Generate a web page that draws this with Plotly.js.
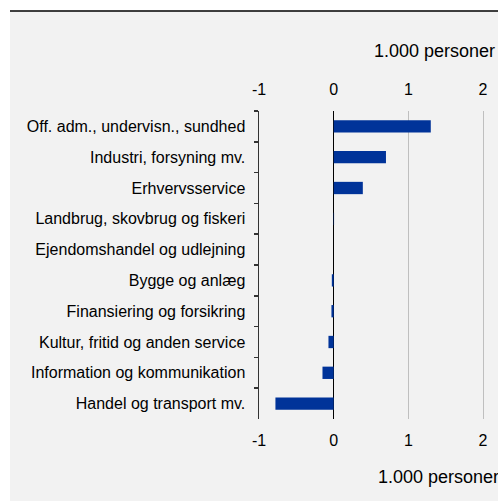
<!DOCTYPE html>
<html>
<head>
<meta charset="utf-8">
<script src="https://cdn.plot.ly/plotly-3.0.1.min.js"></script>
<style>
  html, body { margin: 0; padding: 0; background: #ffffff; }
  #chart { width: 498px; height: 501px; }
</style>
</head>
<body>
<div id="chart"></div>
<script>
// Employment change by industry, 1.000 personer (top to bottom)
const industries = [
  "Off. adm., undervisn., sundhed",
  "Industri, forsyning mv.",
  "Erhvervsservice",
  "Landbrug, skovbrug og fiskeri",
  "Ejendomshandel og udlejning",
  "Bygge og anlæg",
  "Finansiering og forsikring",
  "Kultur, fritid og anden service",
  "Information og kommunikation",
  "Handel og transport mv."
];
const change = [1.30, 0.70, 0.39, 0.005, 0.0, -0.025, -0.03, -0.07, -0.15, -0.78];
const xTicks = [-1, 0, 1, 2];
const xTickText = ["-1", "0", "1", "2"];
const unitLabel = "1.000 personer";

const W = 498, H = 501;
const M = { l: 259, r: 0, t: 111, b: 82 };
const plotW = W - M.l - M.r, plotH = H - M.t - M.b;
// pixel -> paper coordinates
const px = x => (x - M.l) / plotW;
const py = y => (H - M.b - y) / plotH;

const family = "Liberation Sans, Arial, sans-serif";
const font = { family: family, size: 16, color: "#000000" };
const unitFont = { family: family, size: 18, color: "#000000" };

const traces = [
  {
    type: "bar",
    orientation: "h",
    x: change,
    y: industries,
    marker: { color: "#003399" },
    hoverinfo: "skip"
  },
  {
    type: "scatter",
    mode: "markers",
    x: [0],
    y: [industries[0]],
    xaxis: "x2",
    marker: { opacity: 0 },
    hoverinfo: "skip",
    showlegend: false
  }
];

const layout = {
  width: W,
  height: H,
  margin: Object.assign({ autoexpand: false }, M),
  showlegend: false,
  paper_bgcolor: "#f2f2f2",
  plot_bgcolor: "rgba(0,0,0,0)",
  font: font,
  bargap: 0.6,
  xaxis: {
    automargin: false,
    range: [-1, 2.2],
    tickvals: xTicks,
    ticktext: xTickText,
    showgrid: true,
    gridcolor: "#bfbfbf",
    gridwidth: 1,
    zeroline: true,
    zerolinecolor: "#000000",
    zerolinewidth: 1.5,
    showline: false,
    ticks: "",
    ticklabelstandoff: 10,
    tickfont: font,
    fixedrange: true
  },
  xaxis2: {
    automargin: false,
    overlaying: "x",
    side: "top",
    matches: "x",
    range: [-1, 2.2],
    tickvals: xTicks,
    ticktext: xTickText,
    showgrid: false,
    zeroline: false,
    showline: false,
    ticks: "",
    ticklabelstandoff: 12,
    tickfont: font,
    fixedrange: true
  },
  yaxis: {
    automargin: false,
    range: [9.5, -0.5],
    type: "category",
    showline: true,
    linecolor: "#333333",
    linewidth: 1.5,
    ticks: "outside",
    tickson: "boundaries",
    ticklen: 4,
    tickwidth: 1.5,
    tickcolor: "#333333",
    showgrid: false,
    tickfont: font,
    ticklabelstandoff: 9,
    fixedrange: true
  },
  shapes: [
    // white strip on the left and above the frame
    { type: "rect", xref: "paper", yref: "paper", x0: px(0), x1: px(10), y0: py(H), y1: py(0),
      fillcolor: "#ffffff", line: { width: 0 }, layer: "below" },
    { type: "rect", xref: "paper", yref: "paper", x0: px(0), x1: px(W), y0: py(11), y1: py(0),
      fillcolor: "#ffffff", line: { width: 0 }, layer: "below" },
    // rule under the heading
    { type: "line", xref: "paper", yref: "paper", x0: px(10), x1: px(W), y0: py(11), y1: py(11),
      line: { color: "#000000", width: 1.5 } }
  ],
  annotations: [
    { text: unitLabel, xref: "paper", yref: "paper", x: px(497), y: py(51),
      xanchor: "right", yanchor: "middle", showarrow: false, font: unitFont },
    { text: unitLabel, xref: "paper", yref: "paper", x: px(501), y: py(477),
      xanchor: "right", yanchor: "middle", showarrow: false, font: unitFont }
  ]
};

Plotly.newPlot("chart", traces, layout, { displayModeBar: false, staticPlot: true });
</script>
</body>
</html>
